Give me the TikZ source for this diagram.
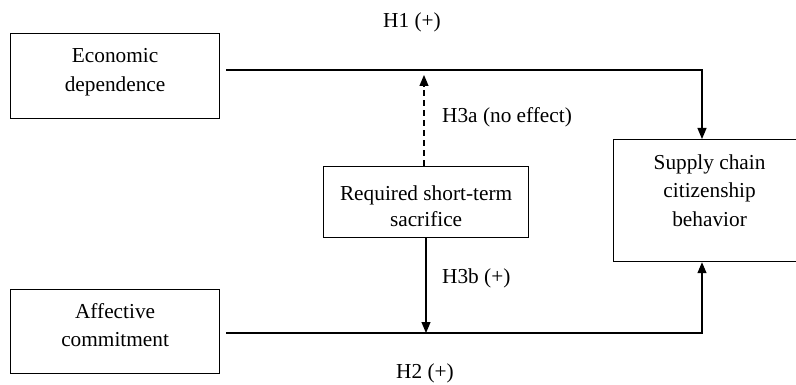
\documentclass[tikz,border=0pt]{standalone}
\usepackage{fontspec}
\setmainfont{Liberation Serif}
\usetikzlibrary{arrows.meta}
\begin{document}
\begin{tikzpicture}[x=1pt,y=-1pt,
  font=\fontsize{21.3pt}{28.5pt}\selectfont,
  box/.style={draw, line width=1.2pt, inner sep=0pt, anchor=north west},
  txt/.style={align=center, inner sep=0pt},
  arr/.style={line width=1.2pt, -{Triangle[width=9pt,length=11pt]}},
  lbl/.style={inner sep=0pt}]
\useasboundingbox (0,0) rectangle (796,385);
\node[box, minimum width=209pt, minimum height=85pt] (eco) at (10,33) {};
\node[txt] (ecot) at ([yshift=4pt]eco.center) {Economic\\dependence};
\node[box, minimum width=209pt, minimum height=84pt] (aff) at (10,289) {};
\node[txt] (afft) at ([yshift=6.5pt]aff.center) {Affective\\commitment};
\node[box, minimum width=205pt, minimum height=71pt] (rsts) at (323,166) {};
\node[txt, font=\fontsize{21.3pt}{25.5pt}\selectfont] (rstst) at ([yshift=-4pt]rsts.center) {Required short-term\\sacrifice};
\node[box, minimum width=192pt, minimum height=122pt] (sccb) at (613,139) {};
\node[txt] (sccbt) at ([yshift=10pt]sccb.center) {Supply chain\\citizenship\\behavior};
\coordinate (t1) at (702,70);
\coordinate (t2) at (702,333);
\coordinate (m1) at (424,75);
\coordinate (m2) at (426,333);
\draw[arr] ([xshift=6pt]eco.east |- t1) -- (t1) -- (t1 |- sccb.north);
\draw[arr] ([xshift=6pt]aff.east |- t2) -- (t2) -- (t2 |- sccb.south);
\draw[arr, dash pattern=on 6pt off 4pt] (m1 |- rsts.north) -- (m1);
\draw[arr] (m2 |- rsts.south) -- (m2);
\node[lbl] (h1) at (412,22) {H1 (+)};
\node[lbl, anchor=west] (h3a) at (442,117) {H3a (no effect)};
\node[lbl, anchor=west] (h3b) at (442,278) {H3b (+)};
\node[lbl] (h2) at (425,373) {H2 (+)};
\end{tikzpicture}
\end{document}
